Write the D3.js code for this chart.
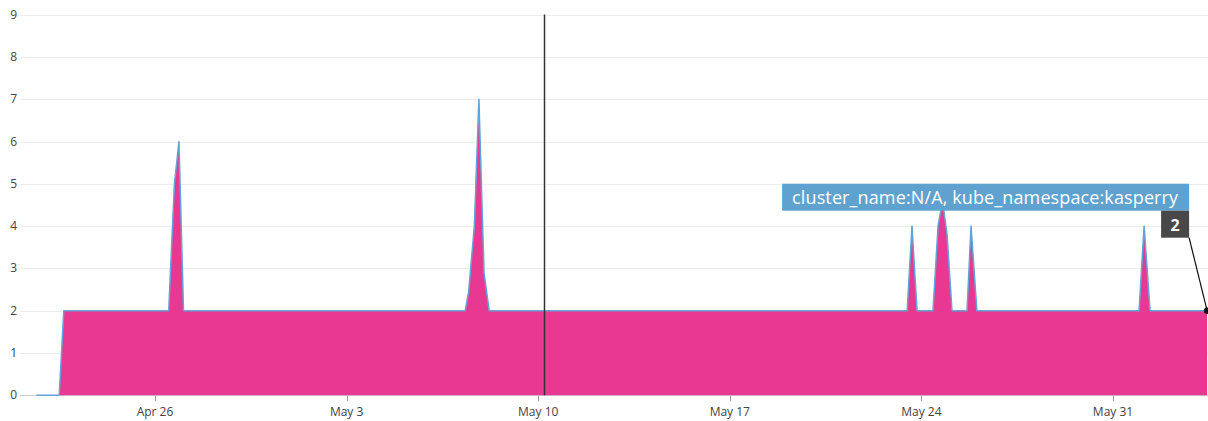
<!DOCTYPE html>
<html>
<head>
<meta charset="utf-8">
<script src="https://cdn.jsdelivr.net/npm/d3@7"></script>
<style>
  html, body { margin: 0; padding: 0; background: #fff; }
  svg { display: block; font-family: "Open Sans", "Noto Sans", sans-serif; }
</style>
</head>
<body>
<svg id="chart" width="1208" height="421"></svg>
<script>
// ---- data ----
const times = [
  "2021-04-21 16:00", "2021-04-22 12:00", "2021-04-22 16:00",
  "2021-04-26 12:00", "2021-04-26 17:00", "2021-04-26 21:00", "2021-04-27 01:00",
  "2021-05-07 08:00", "2021-05-07 11:00", "2021-05-07 16:00", "2021-05-07 20:00", "2021-05-08 00:30", "2021-05-08 05:00",
  "2021-05-23 11:30", "2021-05-23 15:45", "2021-05-23 20:10",
  "2021-05-24 10:10", "2021-05-24 14:35", "2021-05-24 18:30", "2021-05-24 22:30", "2021-05-25 02:50",
  "2021-05-25 16:00", "2021-05-25 19:30", "2021-05-26 00:40",
  "2021-05-31 22:50", "2021-06-01 03:15", "2021-06-01 08:30",
  "2021-06-03 10:30"
];
const values = [
  0, 0, 2,
  2, 5, 6, 2,
  2, 2.45, 4, 7, 2.9, 2,
  2, 4, 2,
  2, 4, 4.6, 3.8, 2,
  2, 4, 2,
  2, 4, 2,
  2
];
const yTicks = [0, 1, 2, 3, 4, 5, 6, 7, 8, 9];
const xTickDates = ["2021-04-26", "2021-05-03", "2021-05-10", "2021-05-17", "2021-05-24", "2021-05-31"];
const crosshairTime = "2021-05-10 05:00";
const seriesLabel = "cluster_name:N/A, kube_namespace:kasperry";

// ---- setup ----
const parseT = d3.timeParse("%Y-%m-%d %H:%M");
const parseD = d3.timeParse("%Y-%m-%d");
const data = times.map((t, i) => ({ t: parseT(t), v: values[i] }));

const svg = d3.select("#chart");
const W = 1208;
const x = d3.scaleTime()
  .domain([data[0].t, data[data.length - 1].t])
  .range([36.4, 1207.1]);
const y = d3.scaleLinear().domain([0, 9]).range([395.3, 14.6]);

// gridlines
svg.append("g").selectAll("line").data(yTicks).join("line")
  .attr("x1", 20).attr("x2", W)
  .attr("y1", d => Math.round(y(d)) + 0.5).attr("y2", d => Math.round(y(d)) + 0.5)
  .attr("stroke", d => d === 0 ? "#cfcfcf" : "#ededed")
  .attr("stroke-width", 1);

// y labels
svg.append("g").selectAll("text").data(yTicks).join("text")
  .attr("x", 17).attr("y", d => y(d) + 4)
  .attr("text-anchor", "end")
  .attr("font-size", 12).attr("fill", "#444")
  .text(d => d);

// area + line
const area = d3.area().x(d => x(d.t)).y0(y(0)).y1(d => y(d.v)).curve(d3.curveLinear);
const line = d3.line().x(d => x(d.t)).y(d => y(d.v)).curve(d3.curveLinear);
svg.append("path").datum(data).attr("d", area).attr("fill", "#e93891");
svg.append("path").datum(data).attr("d", line)
  .attr("fill", "none").attr("stroke", "#64a3d6").attr("stroke-width", 1.5)
  .attr("stroke-linejoin", "round");

// x axis ticks and labels
const xTicks = xTickDates.map(parseD);
const fmt = d3.timeFormat("%b %-d");
const xg = svg.append("g");
xg.selectAll("line").data(xTicks).join("line")
  .attr("x1", d => Math.round(x(d)) + 0.5).attr("x2", d => Math.round(x(d)) + 0.5)
  .attr("y1", 396).attr("y2", 401)
  .attr("stroke", "#999").attr("stroke-width", 1);
xg.selectAll("text").data(xTicks).join("text")
  .attr("x", d => x(d)).attr("y", 416)
  .attr("text-anchor", "middle")
  .attr("font-size", 12).attr("fill", "#444")
  .text(d => fmt(d));

// crosshair
const cx = Math.round(x(parseT(crosshairTime))) + 0.5;
svg.append("line")
  .attr("x1", cx).attr("x2", cx).attr("y1", y(9)).attr("y2", y(0))
  .attr("stroke", "#333").attr("stroke-width", 1.5);

// tooltip anchored at last point
const last = data[data.length - 1];
const px = x(last.t), py = y(last.v);
const boxR = px - 18;
const darkTop = py - 100, darkH = 27, darkW = 28;
const blueH = 27;
const tip = svg.append("g");

const blueText = tip.append("text")
  .attr("font-size", 18).attr("fill", "#fff")
  .attr("textLength", 386).attr("lengthAdjust", "spacing")
  .text(seriesLabel);
const tw = 386;
const blueW = tw + 21;
tip.insert("rect", "text")
  .attr("x", boxR - blueW).attr("y", darkTop - blueH)
  .attr("width", blueW).attr("height", blueH)
  .attr("fill", "#60a2cf");
blueText.attr("x", boxR - blueW + 10).attr("y", darkTop - 6.5);

tip.append("rect")
  .attr("x", boxR - darkW).attr("y", darkTop)
  .attr("width", darkW).attr("height", darkH)
  .attr("fill", "#484848");
tip.append("text")
  .attr("x", boxR - darkW / 2).attr("y", darkTop + 20)
  .attr("text-anchor", "middle")
  .attr("font-size", 16).attr("font-weight", "bold").attr("fill", "#fff")
  .text(d3.format("d")(last.v));

tip.append("line")
  .attr("x1", boxR).attr("y1", darkTop + darkH)
  .attr("x2", px).attr("y2", py)
  .attr("stroke", "#111").attr("stroke-width", 1.2);
tip.append("circle").attr("cx", px).attr("cy", py).attr("r", 3.2).attr("fill", "#111");
</script>
</body>
</html>
